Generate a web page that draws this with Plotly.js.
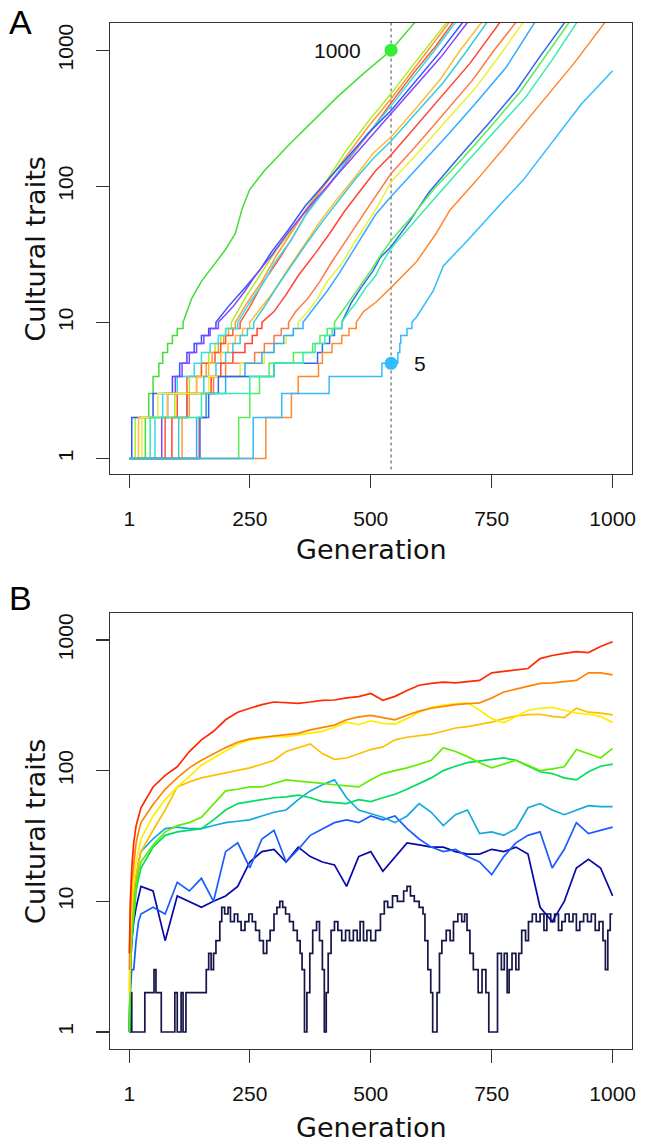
<!DOCTYPE html>
<html>
<head>
<meta charset="utf-8">
<script src="https://cdn.plot.ly/plotly-3.0.1.min.js"></script>
<style>html,body{margin:0;padding:0;background:#fff;}#chart{width:645px;height:1145px;}</style>
</head>
<body>
<div id="chart"></div>
<script>
// ---------- Panel A data ----------
const aColors = ['#44dd33','#aaee22','#ff9933','#ff5533','#33ddee','#3355ff','#8844ff','#ffbb33','#33ccdd','#ff4433','#ff7744','#eeee33','#33aaff','#3366ee','#55ee55','#33eeaa','#ff8833','#33bbff'];
// generation at which each lineage first reaches 2,3,...,10 traits
const aStepGens = [
  [34,41,50,62,70,80,90,100,112],
  [13,95,125,150,165,178,190,200,212],
  [110,125,140,160,172,185,196,206,220],
  [75,100,120,150,178,190,200,215,230],
  [54,70,100,135,150,168,185,200,225],
  [6,50,90,105,120,135,150,165,180],
  [68,80,96,110,125,140,155,168,185],
  [20,80,140,165,190,205,220,235,250],
  [103,120,155,180,200,215,230,245,258],
  [89,120,170,190,215,240,255,265,275],
  [145,160,175,200,260,280,300,315,330],
  [27,60,165,230,280,300,325,340,350],
  [140,160,200,240,275,300,320,340,360],
  [147,165,185,300,390,400,415,425,440],
  [227,250,270,290,340,380,395,410,425],
  [44,150,250,300,360,385,405,420,440],
  [283,336,350,392,400,420,440,455,470],
  [257,316,414,523,556,560,562,575,585]
];
const aGens = [
  [130,150,180,199,220,235,250,280,330,380,430,480,542,591],
  [240,270,305,345,375,410,450,495,542,590,630,657],
  [245,275,305,340,370,405,450,495,542,590,630,662],
  [250,275,310,340,370,410,455,500,542,590,635,670],
  [250,280,300,335,365,405,450,495,542,592,635,675],
  [205,240,270,295,330,365,405,450,495,542,595,640,690],
  [215,240,265,295,330,370,410,455,500,542,595,645,700],
  [275,300,330,365,395,430,470,505,542,595,645,685,729],
  [280,305,335,365,400,435,470,505,542,595,650,695,740],
  [300,325,350,385,415,445,480,510,542,595,650,705,767],
  [345,370,395,420,450,475,500,525,542,595,650,710,755,800],
  [370,390,410,440,465,490,515,542,600,655,715,765,815],
  [385,410,435,460,485,510,542,600,660,720,780,839],
  [450,460,480,505,520,542,580,620,680,740,800,850,901],
  [440,460,480,500,520,542,585,630,690,750,810,860,910],
  [455,470,490,510,525,542,585,630,690,755,820,875,926],
  [485,510,542,595,635,664,719,780,850,920,984],
  [595,629,650,700,735,770,815,870,935,1000]
];
const aVals = [
  [15,20,28,34,45,70,95,130,200,300,450,650,1000,1600],
  [15,22,34,52,75,112,185,300,480,800,1200,1600],
  [14,20,31,48,70,102,168,275,440,740,1120,1600],
  [13,19,29,43,66,98,160,255,410,690,1080,1600],
  [14,20,27,40,61,94,155,245,390,660,1030,1600],
  [13,18,24,33,48,72,105,162,245,360,600,940,1600],
  [13,17,23,31,46,69,100,152,228,340,550,890,1600],
  [13,17,25,38,55,80,120,175,230,380,620,1000,1600],
  [13,18,26,37,55,80,115,160,215,350,580,950,1600],
  [12,16,22,32,45,65,95,130,170,280,470,800,1600],
  [12,15,20,28,40,55,75,100,124,200,340,600,1000,1600],
  [12,15,20,27,38,52,72,108,180,300,520,900,1600],
  [13,17,23,32,45,62,84,140,240,420,750,1600],
  [12,14,18,24,30,36,55,90,160,280,500,900,1600],
  [12,15,19,24,31,40,60,95,160,280,500,900,1600],
  [12,14,18,22,28,35,52,80,140,250,450,850,1600],
  [12,14,18,28,45,67,111,200,400,800,1600],
  [11,17,26,40,55,75,111,200,400,707]
];
const markGen = 542;
const markVals = [1000, 5];
const markColors = ['#33ee33', '#33bbff'];

// ---------- Panel B data ----------
const bGens = [1,3,6,10,15,20,25,50,75,100,125,150,175,200,225,250,275,300,325,350,375,400,425,450,475,500,525,550,575,600,625,650,675,700,725,750,775,800,825,850,875,900,925,950,975,1000];
const bRed    = [4,10,18,28,38,45,52,75,92,107,140,172,200,245,280,300,320,335,330,327,335,345,347,360,368,390,345,370,410,450,465,475,470,480,490,560,575,590,605,720,760,790,815,800,890,970];
const bOrange = [3,8,14,20,28,34,40,55,72,88,105,120,135,150,165,175,180,185,190,193,205,215,223,245,258,265,255,245,265,285,300,310,320,325,330,360,400,420,440,465,470,480,490,560,560,540];
const bYellow = [2,6,10,15,20,25,30,45,60,75,90,110,125,140,160,172,178,182,182,188,193,200,215,235,225,240,230,227,250,280,305,318,325,330,290,250,232,260,290,300,305,290,275,270,260,233];
const bGold   = [2,5,8,12,16,20,24,35,50,75,82,88,92,95,100,105,112,120,140,150,160,135,122,125,135,145,152,172,180,185,190,200,212,217,225,235,250,262,268,270,260,255,300,280,275,267];
const bLime   = [1,3,6,9,13,17,20,27,34,38,40,44,55,70,72,75,75,80,85,83,82,80,78,76,75,85,95,100,105,112,120,150,140,128,115,105,112,120,110,100,103,107,145,135,125,148];
const bSpring = [1,3,5,8,12,15,18,26,32,34,35,36,42,50,56,58,60,62,63,65,62,58,57,56,60,58,62,66,72,80,88,100,108,115,118,122,125,120,108,98,95,88,85,98,108,112];
const bCyan   = [1,3,6,10,15,20,24,30,36,37,36,36,38,40,41,42,45,48,50,60,70,78,85,62,50,47,44,40,45,56,48,38,46,50,33,34,32,36,52,56,50,46,50,54,53,53];
const bBlue   = [1,2,3,3,5,7,8,9,8,14,12,15,10,24,28,18,30,35,20,25,32,36,40,42,40,45,42,45,36,30,26,24,25,22,20,16,22,28,32,34,18,25,40,33,35,37];
const bDark   = [1,3,5,7,9,11,13,12,5,11,10,9,10,11,13,20,24,25,20,26,22,20,19,13,22,24,17,22,28,27,26,26,24,23,23,25,24,26,23,9,7,10,18,21,18,11];
const bNavyGen = [1,3,6,33,52,56,67,95,100,108,112,118,160,165,170,175,180,188,192,198,205,210,218,225,232,240,248,255,262,270,278,285,292,300,306,312,318,324,332,340,348,354,358,363,368,374,380,388,394,400,404,408,412,418,425,432,440,448,456,464,472,478,485,492,500,510,520,528,535,545,555,568,575,582,590,600,608,612,618,624,628,637,642,647,656,664,671,680,688,694,699,705,712,722,730,738,744,762,770,776,782,786,792,800,806,812,820,826,834,842,850,858,864,872,880,888,895,902,910,918,925,932,940,948,956,964,972,980,985,990,995,1000];
const bNavyVal = [1,2,1,2,3,2,1,2,1,2,1,2,3,4,3,4,5,7,9,8,9,7,8,7,6,7,8,7,6,5,4,5,6,8,9,10,9,8,7,6,5,4,3,1,2,4,6,7,5,3,1,2,4,6,7,6,5,6,5,6,5,7,5,6,5,6,8,10,9,11,10,12,13,11,10,9,8,5,3,2,1,2,4,5,6,5,7,8,7,8,6,4,3,2,3,2,1,4,3,4,2,3,4,3,4,6,5,7,8,7,8,6,8,7,8,6,7,8,7,8,6,7,8,7,8,6,7,5,3,6,8,8];
const bColors = ['#ff2a00','#ff8400','#ffee00','#ffbf00','#5fee00','#00dd60','#14a8e0','#1a5cff','#0808a8','#151548'];

// ---------- Build traces ----------
const traces = [];
for (let i = 0; i < aStepGens.length; i++) {
  const xs = [1], ys = [1];
  let v = 1;
  aStepGens[i].forEach(g => { xs.push(g); ys.push(v); v += 1; xs.push(g); ys.push(v); });
  aGens[i].forEach((g, k) => { xs.push(g); ys.push(aVals[i][k]); });
  traces.push({x: xs, y: ys, xaxis: 'x', yaxis: 'y', mode: 'lines', line: {color: aColors[i], width: 1.5}, hoverinfo: 'skip'});
}
markVals.forEach((v, i) => {
  traces.push({x: [markGen], y: [v], xaxis: 'x', yaxis: 'y', mode: 'markers', marker: {color: markColors[i], size: 13}, hoverinfo: 'skip'});
});
const bSeries = [bRed, bOrange, bYellow, bGold, bLime, bSpring, bCyan, bBlue, bDark];
traces.push({x: bNavyGen, y: bNavyVal, xaxis: 'x2', yaxis: 'y2', mode: 'lines', line: {color: bColors[9], width: 1.7, shape: 'hv'}, hoverinfo: 'skip'});
for (let i = bSeries.length - 1; i >= 0; i--) {
  traces.push({x: bGens, y: bSeries[i], xaxis: 'x2', yaxis: 'y2', mode: 'lines', line: {color: bColors[i], width: 1.7}, hoverinfo: 'skip'});
}

const tickFont = {family: 'Liberation Sans, Arial, sans-serif', size: 21, color: '#111'};
const xCommon = {range: [-39, 1040], tickvals: [1,250,500,750,1000], ticktext: ['1','250','500','750','1000'], ticks: 'outside', ticklen: 13, tickwidth: 1.3, tickcolor: '#333', showline: true, mirror: true, linecolor: '#333', linewidth: 1.3, showgrid: false, zeroline: false, tickfont: tickFont, ticklabelstandoff: 12};
const yCommon = {type: 'log', tickvals: [1,10,100,1000], ticktext: ['1','10','100','1000'], tickangle: -90, ticks: 'outside', ticklen: 13, tickwidth: 1.3, tickcolor: '#333', showline: true, mirror: true, linecolor: '#333', linewidth: 1.3, showgrid: false, zeroline: false, tickfont: tickFont, ticklabelstandoff: 14};

const titleFont = {family: 'DejaVu Sans, sans-serif', size: 27, color: '#111'};
const layout = {
  width: 645, height: 1145,
  margin: {l: 110, r: 13, t: 23, b: 96},
  paper_bgcolor: '#fff', plot_bgcolor: '#fff',
  showlegend: false,
  xaxis: Object.assign({}, xCommon, {domain: [0, 1], anchor: 'y'}),
  yaxis: Object.assign({}, yCommon, {domain: [0.5604, 1], anchor: 'x', range: [-0.1146, 3.2]}),
  xaxis2: Object.assign({}, xCommon, {domain: [0, 1], anchor: 'y2'}),
  yaxis2: Object.assign({}, yCommon, {domain: [0, 0.4250], anchor: 'x2', range: [-0.130, 3.2066]}),
  shapes: [{type: 'line', xref: 'x', yref: 'y domain', x0: markGen, x1: markGen, y0: 0.01, y1: 1, line: {color: '#888', width: 1.5, dash: 'dot'}, layer: 'below'}],
  annotations: [
    {text: 'A', xref: 'paper', yref: 'paper', x: -0.172, y: 1.001, xanchor: 'center', yanchor: 'middle', showarrow: false, font: {family: 'Liberation Sans, Arial, sans-serif', size: 34, color: '#000'}},
    {text: 'B', xref: 'paper', yref: 'paper', x: -0.172, y: 0.4396, xanchor: 'center', yanchor: 'middle', showarrow: false, font: {family: 'Liberation Sans, Arial, sans-serif', size: 34, color: '#000'}},
    {text: 'Cultural traits', xref: 'paper', yref: 'paper', x: -0.1418, y: 0.7802, textangle: -90, xanchor: 'center', yanchor: 'middle', showarrow: false, font: titleFont},
    {text: 'Cultural traits', xref: 'paper', yref: 'paper', x: -0.1418, y: 0.2125, textangle: -90, xanchor: 'center', yanchor: 'middle', showarrow: false, font: titleFont},
    {text: 'Generation', xref: 'paper', yref: 'paper', x: 0.5, y: (1049 - 549) / 1026, xanchor: 'center', yanchor: 'middle', showarrow: false, font: titleFont},
    {text: 'Generation', xref: 'paper', yref: 'paper', x: 0.5, y: (1049 - 1127) / 1026, xanchor: 'center', yanchor: 'middle', showarrow: false, font: titleFont},
    {text: String(markVals[0]), xref: 'x', yref: 'y', x: markGen, y: Math.log10(markVals[0]), xanchor: 'right', yanchor: 'middle', xshift: -28, showarrow: false, font: tickFont},
    {text: String(markVals[1]), xref: 'x', yref: 'y', x: markGen, y: Math.log10(markVals[1]), xanchor: 'left', yanchor: 'middle', xshift: 21, showarrow: false, font: tickFont}
  ]
};
Plotly.newPlot('chart', traces, layout, {staticPlot: true, displayModeBar: false});
</script>
</body>
</html>
